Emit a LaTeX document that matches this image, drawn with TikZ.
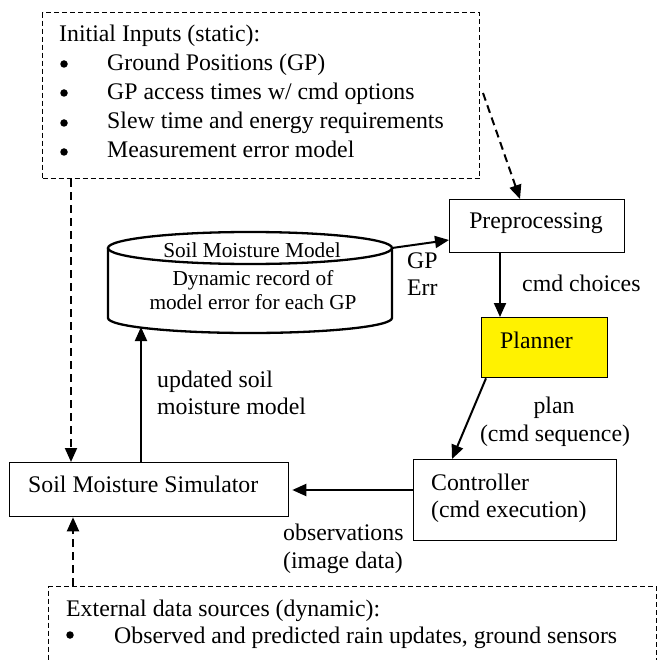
\documentclass[tikz,border=0pt]{standalone}
\usepackage{fontspec}
\setmainfont{Liberation Serif}
\usetikzlibrary{arrows.meta}
\begin{document}
\begin{tikzpicture}[x=1pt,y=-1pt,
  txt/.style={inner sep=0pt, font=\fontsize{23.8}{29.5}\selectfont},
  smalltxt/.style={inner sep=0pt, font=\fontsize{21.3}{25}\selectfont},
  box/.style={draw, line width=1.3pt, inner sep=0pt, anchor=north west},
  dbox/.style={draw, line width=1.1pt, dash pattern=on 5pt off 3pt, inner sep=0pt, anchor=north west},
  bullet/.style={circle, fill, inner sep=0pt, minimum size=7.5pt},
  arr/.style={line width=2pt, -{Triangle[length=14pt,width=12pt]}},
  darr/.style={arr, dash pattern=on 8pt off 5pt},
  cylline/.style={line width=2.3pt},
]
\useasboundingbox (0,0) rectangle (657,660);
\clip (0,0) rectangle (657,660);

% boxes
\node[dbox, minimum width=437pt, minimum height=166pt] (init) at (42,12) {};
\node[box, minimum width=175pt, minimum height=53pt] (prep) at (449,199) {};
\node[box, fill=yellow, minimum width=126pt, minimum height=60pt] (plan) at (481,317) {};
\node[box, minimum width=203pt, minimum height=81pt] (ctrl) at (413,459) {};
\node[box, minimum width=279pt, minimum height=54pt] (sim) at (9,462) {};
\node[dbox, minimum width=608pt, minimum height=100pt] (ext) at (48,586) {};

% cylinder
\node[inner sep=0pt, minimum width=284pt, minimum height=101pt, anchor=north west] (cyl) at (108,232) {};
\draw[cylline] (250,248) ellipse [x radius=142, y radius=16];
\draw[cylline] (108,248) -- (108,318) arc[start angle=180, end angle=0, x radius=142, y radius=15] -- (392,248);

% texts: initial inputs
\node[txt, anchor=base west] (t0) at (59,42) {Initial Inputs (static):};
\node[bullet] (b1) at (64,64) {};
\node[txt, anchor=base west] (t1) at (107,71) {Ground Positions (GP)};
\node[bullet] (b2) at (64,93) {};
\node[txt, anchor=base west] (t2) at (107,100) {GP access times w/ cmd options};
\node[bullet] (b3) at (64,123) {};
\node[txt, anchor=base west] (t3) at (107,129) {Slew time and energy requirements};
\node[bullet] (b4) at (64,152) {};
\node[txt, anchor=base west] (t4) at (107,158) {Measurement error model};

% cylinder texts
\node[smalltxt, anchor=base] (c1) at (252,257) {Soil Moisture Model};
\node[smalltxt, anchor=base] (c2) at (253,285) {Dynamic record of};
\node[smalltxt, anchor=base] (c3) at (253,309) {model error for each GP};

% box texts
\node[txt, anchor=base] (prept) at (536,228) {Preprocessing};
\node[txt, anchor=base west] (plant) at (500,348) {Planner};
\node[txt, anchor=base west] (ctrl1) at (431,490) {Controller};
\node[txt, anchor=base west] (ctrl2) at (431,517) {(cmd execution)};
\node[txt, anchor=base west] (simt) at (28,492) {Soil Moisture Simulator};

% labels
\node[txt, anchor=base west] (gp1) at (407,268) {GP};
\node[txt, anchor=base west] (gp2) at (407,295) {Err};
\node[txt, anchor=base west] (cc) at (522,291) {cmd choices};
\node[txt, anchor=base] (pl1) at (554,413) {plan};
\node[txt, anchor=base] (pl2) at (555,441) {(cmd sequence)};
\node[txt, anchor=base west] (up1) at (157,387) {updated soil};
\node[txt, anchor=base west] (up2) at (157,414) {moisture model};
\node[txt, anchor=base west] (ob1) at (283,540) {observations};
\node[txt, anchor=base west] (ob2) at (283,568) {(image data)};
\node[txt, anchor=base west] (e0) at (66,616) {External data sources (dynamic):};
\node[bullet] (eb) at (70,635) {};
\node[txt, anchor=base west] (e1) at (114,643) {Observed and predicted rain updates, ground sensors};

% helper coordinates
\coordinate (x71) at (71,0);
\coordinate (x73) at (73,0);
\coordinate (x141) at (141,0);
\coordinate (x500) at (500,0);
\coordinate (x486) at (486,0);
\coordinate (x452) at (452,0);
\coordinate (x520) at (520,0);
\coordinate (y490) at (0,490);
\coordinate (initR) at (483,93);
\coordinate (cylR) at (392,248);
\coordinate (prepIn) at (449,240);
\coordinate (cylB) at (141,327);

% connectors
\draw[darr] (init.south -| x71) -- (sim.north -| x71);
\draw[darr] (initR) -- (prep.north -| x520);
\draw[arr] (cylR) -- (prepIn);
\draw[arr] (prep.south -| x500) -- (plan.north -| x500);
\draw[arr] (plan.south -| x486) -- (ctrl.north -| x452);
\draw[arr] (ctrl.west |- y490) -- ([xshift=3pt]sim.east |- y490);
\draw[arr] (sim.north -| x141) -- (cylB);
\draw[darr] (ext.north -| x73) -- (sim.south -| x73);
\end{tikzpicture}
\end{document}
